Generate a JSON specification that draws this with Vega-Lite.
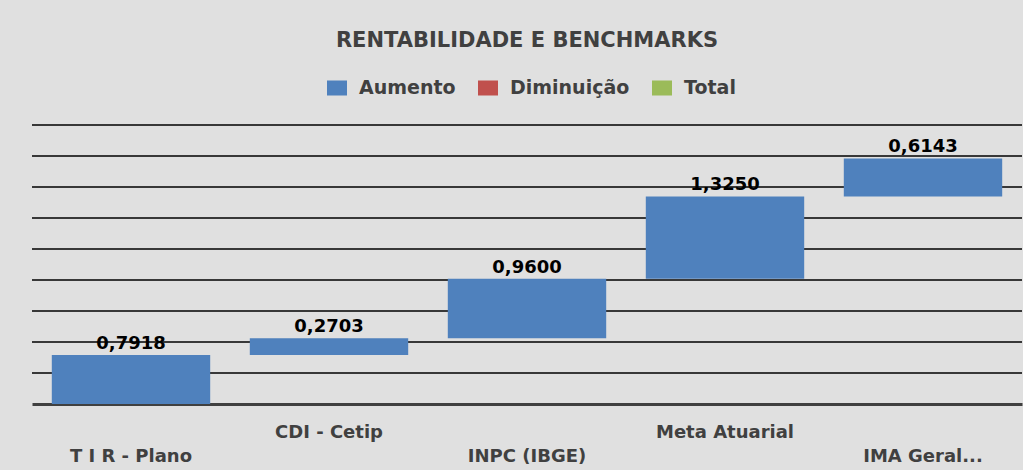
{
  "$schema": "https://vega.github.io/schema/vega-lite/v6.json",
  "autosize": {"type": "none"},
  "width": 990,
  "height": 279,
  "padding": {"left": 32, "top": 125, "right": 1, "bottom": 66},
  "background": "#e0e0e0",
  "title": {
    "text": "RENTABILIDADE E BENCHMARKS",
    "font": "DejaVu Sans",
    "fontSize": 21,
    "fontWeight": "bold",
    "color": "#404040",
    "anchor": "middle",
    "baseline": "alphabetic",
    "offset": 10
  },
  "datasets": {
    "barras": [
      {"categoria": "T I R - Plano", "tipo": "Aumento", "value": 0.7918, "start": 0, "end": 0.7918},
      {"categoria": "CDI - Cetip", "tipo": "Aumento", "value": 0.2703, "start": 0.7918, "end": 1.0621},
      {"categoria": "INPC (IBGE)", "tipo": "Aumento", "value": 0.96, "start": 1.0621, "end": 2.0221},
      {"categoria": "Meta Atuarial", "tipo": "Aumento", "value": 1.325, "start": 2.0221, "end": 3.3471},
      {"categoria": "IMA Geral...", "tipo": "Aumento", "value": 0.6143, "start": 3.3471, "end": 3.9614}
    ],
    "grade": [
      {"g": 0.5}, {"g": 1}, {"g": 1.5}, {"g": 2}, {"g": 2.5}, {"g": 3}, {"g": 3.5}, {"g": 4}, {"g": 4.5}
    ]
  },
  "layer": [
    {
      "data": {"name": "grade"},
      "mark": {"type": "rule", "color": "#000000", "strokeWidth": 1.5},
      "encoding": {
        "y": {
          "field": "g",
          "type": "quantitative",
          "scale": {"domain": [0, 4.5], "nice": false},
          "axis": null
        }
      }
    },
    {
      "data": {"name": "barras"},
      "mark": {"type": "bar", "color": "#4f81bd"},
      "encoding": {
        "x": {
          "field": "categoria",
          "type": "nominal",
          "sort": null,
          "scale": {"paddingInner": 0.2, "paddingOuter": 0.1},
          "axis": {
            "title": null,
            "labelAngle": 0,
            "labelFont": "DejaVu Sans",
            "labelFontSize": 18,
            "labelFontWeight": "bold",
            "labelColor": "#404040",
            "labelPadding": {"condition": {"test": "datum.value == 'CDI - Cetip' || datum.value == 'Meta Atuarial'", "value": 19}, "value": 43},
            "ticks": false,
            "domainColor": "#404040",
            "domainWidth": 3,
            "grid": false,
            "labelLimit": 300
          }
        },
        "y": {"field": "start", "type": "quantitative"},
        "y2": {"field": "end"},
        "color": {
          "field": "tipo",
          "type": "nominal",
          "scale": {"domain": ["Aumento", "Diminuição", "Total"], "range": ["#4f81bd", "#c0504d", "#9bbb59"]},
          "legend": {
            "title": null,
            "orient": "none",
            "direction": "horizontal",
            "legendX": 295,
            "legendY": -47,
            "symbolType": "M-1,-0.75H1V0.75H-1Z",
            "symbolSize": 400,
            "symbolStrokeWidth": 0,
            "labelFont": "DejaVu Sans",
            "labelFontSize": 19,
            "labelFontWeight": "bold",
            "labelColor": "#404040",
            "columnPadding": 22,
            "labelOffset": 12
          }
        }
      }
    },
    {
      "data": {"name": "barras"},
      "mark": {"type": "text", "baseline": "bottom", "dy": -2, "font": "DejaVu Sans", "fontSize": 18, "fontWeight": "bold", "color": "#000000"},
      "encoding": {
        "x": {"field": "categoria", "type": "nominal", "sort": null},
        "y": {"field": "end", "type": "quantitative"},
        "text": {"field": "value", "type": "quantitative", "format": ".4f"}
      }
    }
  ],
  "config": {
    "locale": {"number": {"decimal": ",", "thousands": ".", "grouping": [3], "currency": ["R$", ""]}},
    "view": {"stroke": null}
  }
}
